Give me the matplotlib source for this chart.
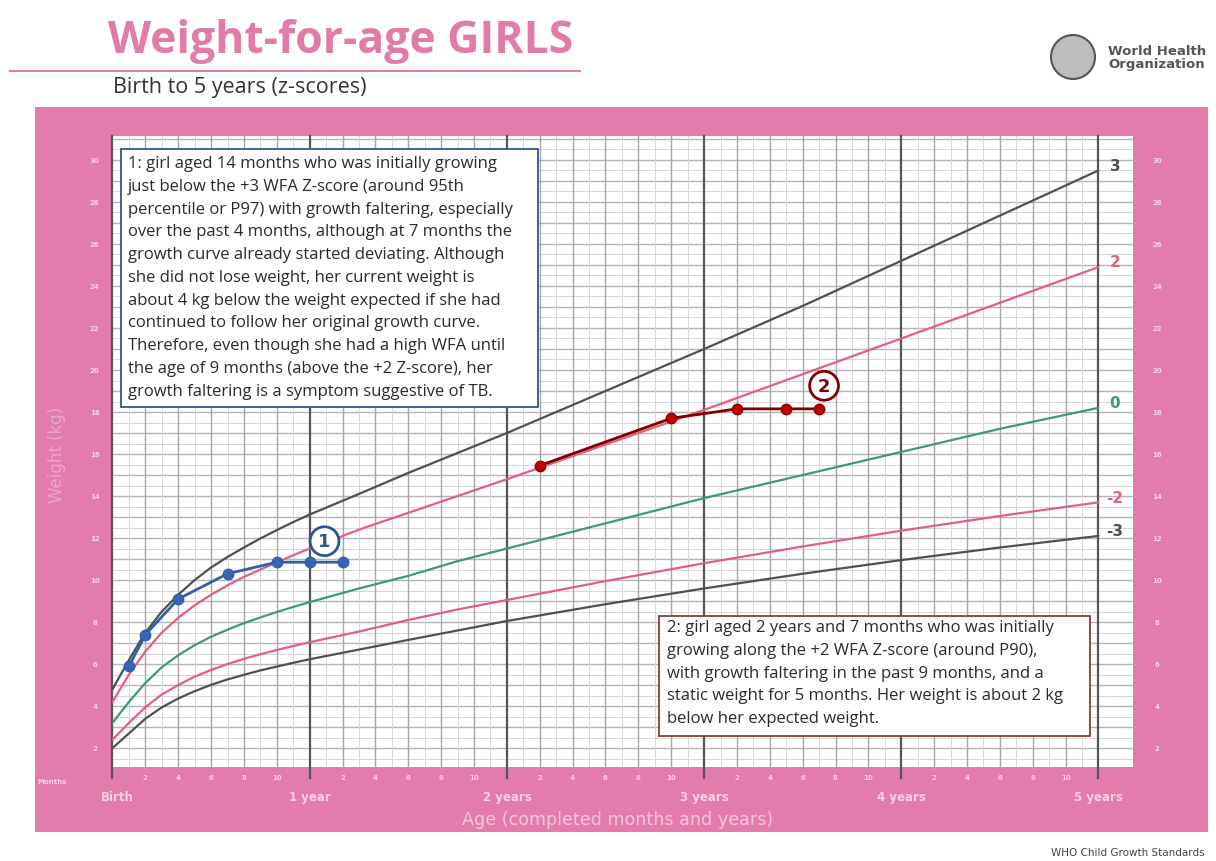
"""
WHO weight-for-age chart (girls, birth to 5 years) with two annotated
growth-faltering trajectories.
"""
import numpy as np
import matplotlib
matplotlib.use("Agg")
import matplotlib.pyplot as plt
from matplotlib.patches import Rectangle, Ellipse
from matplotlib.lines import Line2D

W, H = 1216, 862
PINK = "#E37BAD"
TICK_TXT = "#F6D3E4"

# ---- reference curves (months, kg) ----
months = [0, 1, 2, 3, 4, 5, 6, 7, 8, 9, 10, 11, 12, 15, 18, 21, 24,
          30, 36, 42, 48, 54, 60]
z_m3 = [2.0, 2.7, 3.4, 3.94, 4.36, 4.71, 5.01, 5.27, 5.49, 5.70, 5.88,
        6.06, 6.23, 6.69, 7.15, 7.60, 8.05, 8.85, 9.60, 10.30, 10.95,
        11.55, 12.10]
z_m2 = [2.4, 3.2, 3.95, 4.55, 5.0, 5.4, 5.72, 6.0, 6.25, 6.47, 6.67, 6.86,
        7.04, 7.55, 8.1, 8.6, 9.05, 9.95, 10.8, 11.6, 12.35, 13.05, 13.7]
z_0 = [3.2, 4.2, 5.1, 5.85, 6.42, 6.9, 7.3, 7.64, 7.95, 8.22, 8.48, 8.72,
       8.95, 9.6, 10.2, 10.9, 11.5, 12.7, 13.9, 15.0, 16.1, 17.2, 18.2]
z_p2 = [4.2, 5.5, 6.6, 7.5, 8.2, 8.8, 9.3, 9.75, 10.15, 10.5, 10.85, 11.18,
        11.5, 12.4, 13.2, 14.0, 14.8, 16.45, 18.1, 19.8, 21.5, 23.2, 24.9]
z_p3 = [4.8, 6.2, 7.5, 8.5, 9.3, 10.0, 10.6, 11.1, 11.55, 11.98, 12.38,
        12.76, 13.12, 14.1, 15.1, 16.05, 17.0, 19.0, 21.0, 23.05, 25.2,
        27.35, 29.5]

# ---- patients ----
girl1_age = [1, 2, 4, 7, 10, 12, 14]
girl1_kg = [5.9, 7.4, 9.1, 10.3, 10.85, 10.85, 10.85]
girl2_age = [26, 34, 38, 41, 43]
girl2_kg = [15.45, 17.7, 18.15, 18.15, 18.15]

year_labels = ["Birth", "1 year", "2 years", "3 years", "4 years", "5 years"]
kg_ticks = list(range(2, 31, 2))

note1 = ("1: girl aged 14 months who was initially growing\n"
         "just below the +3 WFA Z-score (around 95th\n"
         "percentile or P97) with growth faltering, especially\n"
         "over the past 4 months, although at 7 months the\n"
         "growth curve already started deviating. Although\n"
         "she did not lose weight, her current weight is\n"
         "about 4 kg below the weight expected if she had\n"
         "continued to follow her original growth curve.\n"
         "Therefore, even though she had a high WFA until\n"
         "the age of 9 months (above the +2 Z-score), her\n"
         "growth faltering is a symptom suggestive of TB.")
note2 = ("2: girl aged 2 years and 7 months who was initially\n"
         "growing along the +2 WFA Z-score (around P90),\n"
         "with growth faltering in the past 9 months, and a\n"
         "static weight for 5 months. Her weight is about 2 kg\n"
         "below her expected weight.")


def fx(px):
    return px / W


def fy(py):
    return 1 - py / H


def box(x0, y0, x1, y1, ec):
    r = Rectangle((fx(x0), fy(y1)), fx(x1) - fx(x0), fy(y0) - fy(y1),
                  transform=fig.transFigure, facecolor="white", edgecolor=ec,
                  lw=1.3, zorder=10)
    fig.add_artist(r)


fig = plt.figure(figsize=(W / 100, H / 100), dpi=100)
fig.patch.set_facecolor("white")

# pink frame
fig.add_artist(Rectangle((fx(35), fy(833)), fx(1208) - fx(35),
                         fy(108) - fy(833), transform=fig.transFigure,
                         facecolor=PINK, edgecolor="none", zorder=-5))

# title block
fig.text(fx(108), fy(42), "Weight-for-age GIRLS", fontsize=32,
         fontweight="bold", color="#E07BAA", va="center", family="Open Sans")
fig.add_artist(Line2D([fx(10), fx(580)], [fy(72), fy(72)],
                      color="#E07BAA", lw=1.5, transform=fig.transFigure))
fig.text(fx(113), fy(88), "Birth to 5 years (z-scores)", fontsize=15.5,
         color="#333333", va="center", family="Open Sans")

# WHO logo (simplified)
fig.add_artist(Ellipse((fx(1073), fy(58)), 44 / W, 44 / H,
                       transform=fig.transFigure, facecolor="#BDBDBD",
                       edgecolor="#555555", lw=1.5))
fig.text(fx(1108), fy(58), "World Health\nOrganization", fontsize=9.5,
         fontweight="bold", color="#555555", va="center", linespacing=0.95)
fig.text(fx(1205), fy(853), "WHO Child Growth Standards", fontsize=7.5,
         color="#444444", ha="right", va="center")

# plot area
ax = fig.add_axes([fx(112), fy(768), fx(1133) - fx(112), fy(137) - fy(768)])
ax.set_zorder(1)
ax.set_facecolor("white")
ax.set_xlim(-0.03, 62.1)
ax.set_ylim(1.1, 31.14)
for s in ax.spines.values():
    s.set_visible(False)
ax.set_xticks([])
ax.set_yticks([])

# grid
for k in np.arange(1.5, 31.01, 0.5):
    major = abs(k - round(k)) < 1e-6
    ax.axhline(k, color="#B4B4B4" if major else "#D6D6D6",
               lw=1.0 if major else 0.7, zorder=1)
for m in range(0, 61):
    if m % 12 == 0:
        ax.plot([m, m], [0.6, 31.14], color="#555555", lw=1.6, zorder=1.2,
                clip_on=False)
    elif m % 2 == 0:
        ax.axvline(m, color="#A6A6A6", lw=1.0, zorder=1.1)
    else:
        ax.axvline(m, color="#D6D6D6", lw=0.7, zorder=1)

# z-score curves
curves = [(z_p3, "#505050", "3"), (z_p2, "#E0607E", "2"),
          (z_0, "#3E9B6E", "0"), (z_m2, "#E0607E", "-2"),
          (z_m3, "#505050", "-3")]
for vals, col, lab in curves:
    ax.plot(months, vals, color=col, lw=1.6, zorder=3, solid_capstyle="round",
            solid_joinstyle="round")
    ax.text(61.0, vals[-1] + 0.25, lab, color=col, fontsize=11,
            fontweight="bold", ha="center", va="center")

# tick labels in frame
ty = ax.get_yaxis_transform()
for k in kg_ticks:
    ax.text(-0.017, k, str(k), transform=ty, fontsize=5, color=TICK_TXT,
            ha="center", va="center", fontweight="bold")
    ax.text(1.0235, k, str(k), transform=ty, fontsize=5, color=TICK_TXT,
            ha="center", va="center", fontweight="bold")
tx = ax.get_xaxis_transform()
for m in range(2, 60, 2):
    if m % 12 == 0:
        continue
    ax.text(m, -0.016, str(m % 12), transform=tx, fontsize=5,
            color=TICK_TXT, ha="center", va="center", fontweight="bold")
for i, lab in enumerate(year_labels):
    xpos = 0.3 if i == 0 else 12 * i
    ax.text(xpos, -0.046, lab, transform=tx, fontsize=8.5, color=TICK_TXT,
            ha="center", va="center", fontweight="bold")
ax.text(-3.7, -0.022, "Months", transform=tx, fontsize=5, color=TICK_TXT,
        ha="center", va="center", fontweight="bold")
ax.text(0.495, -0.082, "Age (completed months and years)",
        transform=ax.transAxes, fontsize=12.6, color="#F2C6DB",
        ha="center", va="center")
fig.text(fx(57), fy(455), "Weight (kg)", rotation=90, fontsize=12,
         color="#EBA7C8", ha="center", va="center")

# patient trajectories
ax.plot(girl1_age, girl1_kg, "-o", color="#2F5FAA", lw=2, ms=7.5, zorder=5,
        mfc="#3566B5", mec="#2F5FAA")
ax.plot(girl2_age, girl2_kg, "-o", color="#7F0000", lw=2, ms=7.5, zorder=5,
        mfc="#C00000", mec="#900000")
ax.text(12.9, 11.85, "1", color="#2F5597", fontsize=13, fontweight="bold",
        ha="center", va="center", zorder=6,
        bbox=dict(boxstyle="circle,pad=0.3", fc="white", ec="#2F5597", lw=2))
ax.text(43.3, 19.25, "2", color="#7F0000", fontsize=13, fontweight="bold",
        ha="center", va="center", zorder=6,
        bbox=dict(boxstyle="circle,pad=0.3", fc="white", ec="#7F0000", lw=2))

# annotation boxes
box(121, 150, 538, 408, "#2F5597")
fig.text(fx(128), fy(156), note1, fontsize=12, color="#2A2A2A",
         family="Open Sans", va="top", ha="left", linespacing=1.565,
         zorder=11)
box(659, 617, 1090, 737, "#8B3A3A")
fig.text(fx(667), fy(620), note2, fontsize=12, color="#2A2A2A",
         family="Open Sans", va="top", ha="left", linespacing=1.565,
         zorder=11)

fig.savefig("out.png", dpi=100)
